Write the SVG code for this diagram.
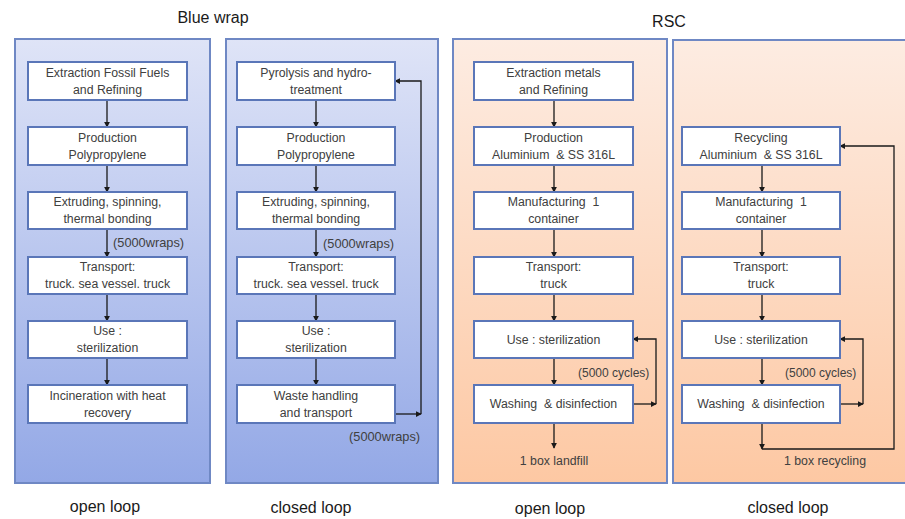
<svg xmlns="http://www.w3.org/2000/svg" width="905" height="519" viewBox="0 0 905 519">
<defs>
<linearGradient id="gb" x1="0" y1="0" x2="0" y2="1"><stop offset="0" stop-color="#dfe4f7"/><stop offset="1" stop-color="#93a8e6"/></linearGradient>
<linearGradient id="go" x1="0" y1="0" x2="0" y2="1"><stop offset="0" stop-color="#fdece2"/><stop offset="1" stop-color="#fdc8a3"/></linearGradient>
<marker id="ah" viewBox="0 0 8 8" refX="7" refY="4" markerWidth="6" markerHeight="6" markerUnits="userSpaceOnUse" orient="auto"><path d="M0,0 L8,4 L0,8 z" fill="#1a1a1a"/></marker>
<style>
.pb{fill:url(#gb);stroke:#6f88c4;stroke-width:2}
.po{fill:url(#go);stroke:#6f88c4;stroke-width:2}
.bx{fill:#ffffff;stroke:#5a76b8;stroke-width:2}
.t{font-family:"Liberation Sans","Open Sans",Arial,sans-serif;font-size:12.3px;fill:#404040;text-anchor:middle}
.h{font-family:"Liberation Sans","Open Sans",Arial,sans-serif;font-size:16px;fill:#1a1a1a;text-anchor:middle}
.l{font-family:"Liberation Sans","Open Sans",Arial,sans-serif;font-size:12.8px;fill:#404040}
.lc{font-family:"Liberation Sans","Open Sans",Arial,sans-serif;font-size:12px;fill:#404040}
.c{fill:none;stroke:#1a1a1a;stroke-width:1.3}
</style>
</defs>
<rect width="905" height="519" fill="#ffffff"/>
<text class="h" x="213" y="23">Blue wrap</text>
<text class="h" x="669" y="27">RSC</text>
<rect class="pb" x="15" y="39" width="195" height="444"/>
<rect class="pb" x="226" y="39" width="212" height="444"/>
<rect class="po" x="453" y="39" width="214" height="444"/>
<rect class="po" x="673" y="40" width="240" height="443"/>

<g id="connectors">
<line class="c" x1="107" y1="100" x2="107" y2="127" marker-end="url(#ah)"/>
<line class="c" x1="107" y1="165" x2="107" y2="192" marker-end="url(#ah)"/>
<line class="c" x1="107" y1="229" x2="107" y2="257" marker-end="url(#ah)"/>
<line class="c" x1="107" y1="294" x2="107" y2="321" marker-end="url(#ah)"/>
<line class="c" x1="107" y1="358" x2="107" y2="385" marker-end="url(#ah)"/>

<line class="c" x1="316" y1="100" x2="316" y2="127" marker-end="url(#ah)"/>
<line class="c" x1="316" y1="165" x2="316" y2="192" marker-end="url(#ah)"/>
<line class="c" x1="316" y1="229" x2="316" y2="257" marker-end="url(#ah)"/>
<line class="c" x1="316" y1="294" x2="316" y2="321" marker-end="url(#ah)"/>
<line class="c" x1="316" y1="358" x2="316" y2="385" marker-end="url(#ah)"/>
<line class="c" x1="395" y1="414" x2="421" y2="414" marker-end="url(#ah)"/>
<polyline class="c" points="421,414 421,81 395,81" marker-end="url(#ah)"/>

<line class="c" x1="554" y1="100" x2="554" y2="127" marker-end="url(#ah)"/>
<line class="c" x1="554" y1="165" x2="554" y2="192" marker-end="url(#ah)"/>
<line class="c" x1="554" y1="229" x2="554" y2="257" marker-end="url(#ah)"/>
<line class="c" x1="554" y1="294" x2="554" y2="321" marker-end="url(#ah)"/>
<line class="c" x1="554" y1="358" x2="554" y2="385" marker-end="url(#ah)"/>
<line class="c" x1="554" y1="423" x2="554" y2="448" marker-end="url(#ah)"/>
<line class="c" x1="633" y1="404" x2="656" y2="404" marker-end="url(#ah)"/>
<polyline class="c" points="656,404 656,339 633,339" marker-end="url(#ah)"/>

<line class="c" x1="762" y1="165" x2="762" y2="192" marker-end="url(#ah)"/>
<line class="c" x1="762" y1="229" x2="762" y2="257" marker-end="url(#ah)"/>
<line class="c" x1="762" y1="294" x2="762" y2="321" marker-end="url(#ah)"/>
<line class="c" x1="762" y1="358" x2="762" y2="385" marker-end="url(#ah)"/>
<line class="c" x1="840" y1="404" x2="863" y2="404" marker-end="url(#ah)"/>
<polyline class="c" points="863,404 863,339 840,339" marker-end="url(#ah)"/>
<line class="c" x1="762" y1="423" x2="762" y2="449" marker-end="url(#ah)"/>
<polyline class="c" points="762,449 894,449 894,146 840,146" marker-end="url(#ah)"/>
</g>

<g id="n1"><rect class="bx" x="28" y="62" width="159" height="38"/><text class="t" x="107.5" y="77">Extraction Fossil Fuels</text><text class="t" x="107.5" y="94">and Refining</text></g>
<g id="n2"><rect class="bx" x="28" y="127" width="159" height="38"/><text class="t" x="107.5" y="142">Production</text><text class="t" x="107.5" y="159">Polypropylene</text></g>
<g id="n3"><rect class="bx" x="28" y="192" width="159" height="37"/><text class="t" x="107.5" y="206">Extruding, spinning,</text><text class="t" x="107.5" y="223">thermal bonding</text></g>
<g id="n4"><rect class="bx" x="28" y="257" width="159" height="37"/><text class="t" x="107.5" y="271">Transport:</text><text class="t" x="107.5" y="288">truck. sea vessel. truck</text></g>
<g id="n5"><rect class="bx" x="28" y="321" width="159" height="37"/><text class="t" x="107.5" y="335">Use :</text><text class="t" x="107.5" y="352">sterilization</text></g>
<g id="n6"><rect class="bx" x="28" y="385" width="159" height="38"/><text class="t" x="107.5" y="400">Incineration with heat</text><text class="t" x="107.5" y="417">recovery</text></g>

<g id="m1"><rect class="bx" x="237" y="62" width="158" height="38"/><text class="t" x="316" y="77">Pyrolysis and hydro-</text><text class="t" x="316" y="94">treatment</text></g>
<g id="m2"><rect class="bx" x="237" y="127" width="158" height="38"/><text class="t" x="316" y="142">Production</text><text class="t" x="316" y="159">Polypropylene</text></g>
<g id="m3"><rect class="bx" x="237" y="192" width="158" height="37"/><text class="t" x="316" y="206">Extruding, spinning,</text><text class="t" x="316" y="223">thermal bonding</text></g>
<g id="m4"><rect class="bx" x="237" y="257" width="158" height="37"/><text class="t" x="316" y="271">Transport:</text><text class="t" x="316" y="288">truck. sea vessel. truck</text></g>
<g id="m5"><rect class="bx" x="237" y="321" width="158" height="37"/><text class="t" x="316" y="335">Use :</text><text class="t" x="316" y="352">sterilization</text></g>
<g id="m6"><rect class="bx" x="237" y="385" width="158" height="38"/><text class="t" x="316" y="400">Waste handling</text><text class="t" x="316" y="417">and transport</text></g>

<g id="r1"><rect class="bx" x="474" y="62" width="159" height="38"/><text class="t" x="553.5" y="77">Extraction metals</text><text class="t" x="553.5" y="94">and Refining</text></g>
<g id="r2"><rect class="bx" x="474" y="127" width="159" height="38"/><text class="t" x="553.5" y="142">Production</text><text class="t" x="553.5" y="159" xml:space="preserve">Aluminium  &amp; SS 316L</text></g>
<g id="r3"><rect class="bx" x="474" y="192" width="159" height="37"/><text class="t" x="553.5" y="206" xml:space="preserve">Manufacturing  1</text><text class="t" x="553.5" y="223">container</text></g>
<g id="r4"><rect class="bx" x="474" y="257" width="159" height="37"/><text class="t" x="553.5" y="271">Transport:</text><text class="t" x="553.5" y="288">truck</text></g>
<g id="r5"><rect class="bx" x="474" y="321" width="159" height="37"/><text class="t" x="553.5" y="344">Use : sterilization</text></g>
<g id="r6"><rect class="bx" x="474" y="385" width="159" height="38"/><text class="t" x="553.5" y="408" xml:space="preserve">Washing  &amp; disinfection</text></g>

<g id="s2"><rect class="bx" x="682" y="127" width="158" height="38"/><text class="t" x="761" y="142">Recycling</text><text class="t" x="761" y="159" xml:space="preserve">Aluminium  &amp; SS 316L</text></g>
<g id="s3"><rect class="bx" x="682" y="192" width="158" height="37"/><text class="t" x="761" y="206" xml:space="preserve">Manufacturing  1</text><text class="t" x="761" y="223">container</text></g>
<g id="s4"><rect class="bx" x="682" y="257" width="158" height="37"/><text class="t" x="761" y="271">Transport:</text><text class="t" x="761" y="288">truck</text></g>
<g id="s5"><rect class="bx" x="682" y="321" width="158" height="37"/><text class="t" x="761" y="344">Use : sterilization</text></g>
<g id="s6"><rect class="bx" x="682" y="385" width="158" height="38"/><text class="t" x="761" y="408" xml:space="preserve">Washing  &amp; disinfection</text></g>

<text class="l" x="113" y="247">(5000wraps)</text>
<text class="l" x="323" y="248">(5000wraps)</text>
<text class="l" x="349" y="441">(5000wraps)</text>
<text class="lc" x="578" y="377">(5000 cycles)</text>
<text class="lc" x="785" y="377">(5000 cycles)</text>
<text class="t" x="554" y="465">1 box landfill</text>
<text class="t" x="825" y="465">1 box recycling</text>

<text class="h" x="105" y="512">open loop</text>
<text class="h" x="311" y="513">closed loop</text>
<text class="h" x="550" y="514">open loop</text>
<text class="h" x="788" y="513">closed loop</text>
</svg>
